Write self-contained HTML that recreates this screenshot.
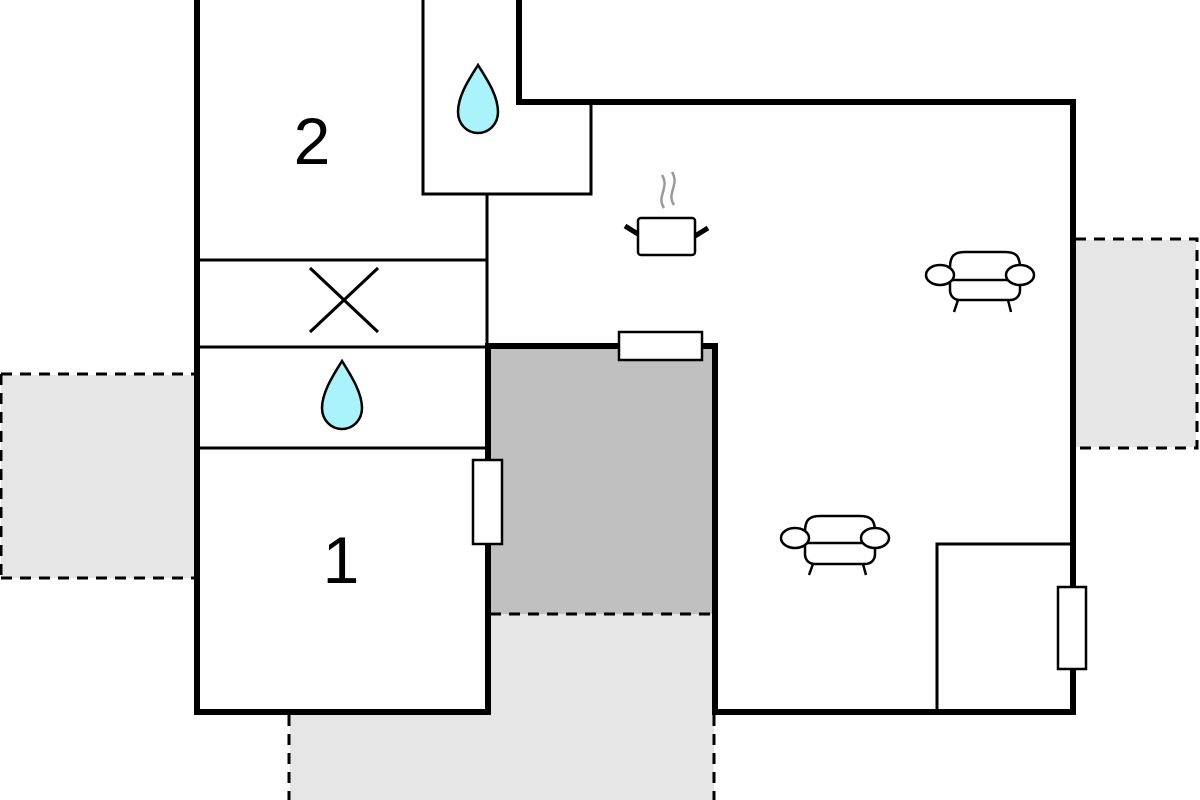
<!DOCTYPE html>
<html><head><meta charset="utf-8"><style>html,body{margin:0;padding:0;background:#fff}svg{display:block}</style></head>
<body>
<svg width="1200" height="800" viewBox="0 0 1200 800" xmlns="http://www.w3.org/2000/svg">
<!-- light grey terraces -->
<rect x="1" y="375" width="193" height="203" fill="#e6e6e6"/>
<rect x="1076" y="240" width="120" height="207" fill="#e6e6e6"/>
<rect x="290" y="714" width="424" height="86" fill="#e6e6e6"/>
<rect x="490" y="614" width="224" height="100" fill="#e6e6e6"/>
<!-- dark grey -->
<rect x="489" y="347" width="225" height="267" fill="#c0c0c0"/>
<path d="M1 374 H194 M1 578 H194 M1 374 V578 M1075 239 H1197 V448 H1075 M289 715 V800 M714 715 V800 M490 614 H714" fill="none" stroke="#000" stroke-width="3" stroke-dasharray="11,8"/>
<!-- thin walls -->
<g stroke="#000" stroke-width="3" fill="none">
<path d="M423 0 V194 H591 V102"/>
<path d="M487 194 V346"/>
<path d="M197 260 H488 M197 347 H488 M197 448 H488"/>
<path d="M310 268 L378 332 M378 268 L310 332"/>
<path d="M937 712 V544 H1073"/>
</g>
<!-- thick walls -->
<g stroke="#000" stroke-width="6" fill="none">
<path d="M197 0 V712 H488 V346 H715 V712 H1073 V102 H519 V0"/>
</g>
<!-- windows -->
<g fill="#fff" stroke="#000" stroke-width="2.5">
<rect x="619" y="332" width="83" height="28"/>
<rect x="473" y="460" width="29" height="84"/>
<rect x="1058" y="587" width="28" height="82"/>
</g>
<!-- labels -->
<g font-family="Liberation Sans, sans-serif" font-size="66" text-anchor="middle" fill="#000">
<text x="312" y="164">2</text>
<text x="341" y="583">1</text>
</g>
<!-- drops -->
<g fill="#aaf3fa" stroke="#000" stroke-width="2.5">
<path d="M478 65 C470 78 458 95 458 112 C458 124 467 133 478 133 C489 133 498 124 498 112 C498 95 486 78 478 65 Z"/>
<path d="M342 361 C334 374 322 392 322 408 C322 420 331 429 342 429 C353 429 362 420 362 408 C362 392 350 374 342 361 Z"/>
</g>
<!-- pot -->
<g fill="none">
<path d="M664 208 C656 196 670 188 662 175 M674 205 C666 193 680 185 672 172" stroke="#999" stroke-width="2.5"/>
<rect x="638" y="218" width="57" height="37" rx="3" fill="#fff" stroke="#000" stroke-width="2.5"/>
<path d="M625 226 L638 234 M708 228 L695 236" stroke="#000" stroke-width="5"/>
</g>
<!-- armchairs -->
<g fill="#fff" stroke="#000" stroke-width="2.5">
<path d="M950 268 C950 255 955 252 965 252 H1005 C1015 252 1020 255 1020 268 V290 C1020 296 1016 300 1010 300 H960 C954 300 950 296 950 290 Z"/>
<path d="M952 280 H1018"/>
<ellipse cx="940" cy="275" rx="14" ry="10"/>
<ellipse cx="1020" cy="275" rx="14" ry="10"/>
<path d="M958 300 L954 312 M1008 300 L1011 312" fill="none"/>
</g>
<g fill="#fff" stroke="#000" stroke-width="2.5">
<path d="M805 532 C805 519 810 516 820 516 H860 C870 516 875 519 875 532 V554 C875 560 871 564 865 564 H815 C809 564 805 560 805 554 Z"/>
<path d="M807 543 H873"/>
<ellipse cx="795" cy="538" rx="14" ry="10"/>
<ellipse cx="875" cy="538" rx="14" ry="10"/>
<path d="M813 564 L809 575 M863 564 L866 575" fill="none"/>
</g>
</svg>
</body></html>
